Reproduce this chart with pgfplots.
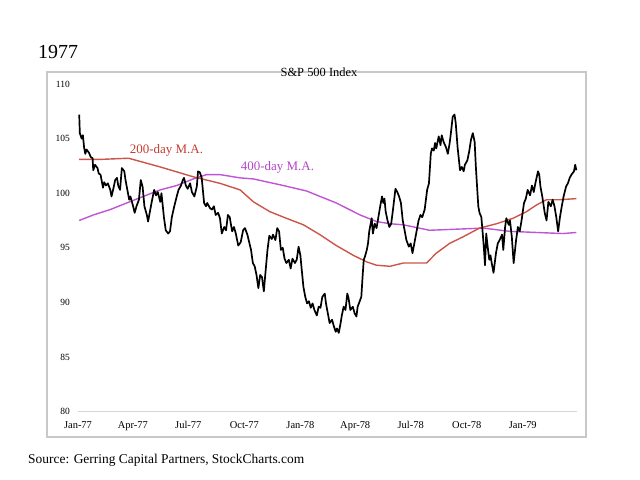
\documentclass[border=0pt]{standalone}
\usepackage{pgfplots}
\pgfplotsset{compat=1.18}
\usepackage{fontspec}
\setmainfont{Liberation Serif}
\definecolor{maRed}{RGB}{204,84,72}
\definecolor{maPurple}{RGB}{192,84,212}
\definecolor{lblRed}{RGB}{196,60,52}
\definecolor{lblPurple}{RGB}{180,68,200}
\definecolor{frameGray}{RGB}{200,200,200}
\definecolor{axGray}{RGB}{214,214,214}
\begin{document}
\begin{tikzpicture}[x=1bp,y=1bp]
\path[use as bounding box] (0,0) rectangle (640,480);
\draw[frameGray, line width=1.3bp] (47,43) rectangle (586,408);
\begin{axis}[
  at={(78bp,68.5bp)}, anchor=south west,
  scale only axis, width=499bp, height=327.5bp,
  xmin=0, xmax=819, ymin=80, ymax=110,
  axis line style={draw=none},
  major tick length=0pt,
  xtick={0,90,181,273,365,455,546,638,730},
  xticklabels={Jan-77,Apr-77,Jul-77,Oct-77,Jan-78,Apr-78,Jul-78,Oct-78,Jan-79},
  ytick={80,85,90,95,100,105,110},
  /pgf/number format/assume math mode=true,
  xticklabel style={font=\fontsize{10.5}{12}\selectfont, inner sep=0pt, yshift=-10bp},
  yticklabel style={font=\fontsize{9.5}{11}\selectfont, inner sep=0pt, xshift=-8bp},
  clip=false,
]
\draw[axGray, line width=1.2bp] (axis cs:0,80) -- (axis cs:819,80);
\addplot[maPurple, line width=1.4bp] coordinates {
(2,97.5)(25,98.0)(53,98.5)(80,99.1)(107,99.7)(135,100.3)(162,100.7)(189,101.3)(211,101.7)(233,101.7)(266,101.4)(288,101.3)(337,100.7)(375,100.2)(424,99.1)(463,98.0)(490,97.4)(512,97.2)(534,97.1)(577,96.6)(621,96.7)(665,96.8)(709,96.5)(752,96.4)(796,96.3)(818,96.4)
};
\addplot[maRed, line width=1.4bp] coordinates {
(2,103.1)(40,103.1)(83,103.2)(135,102.4)(189,101.5)(233,100.9)(266,100.3)(288,99.2)(315,98.3)(342,97.7)(370,97.1)(397,96.2)(424,95.2)(452,94.3)(474,93.7)(490,93.4)(512,93.3)(534,93.6)(572,93.6)(588,94.5)(610,95.4)(632,96.0)(659,96.8)(687,97.2)(714,97.7)(736,98.3)(752,98.9)(769,99.4)(791,99.4)(818,99.5)
};
\addplot[black, line width=1.7bp, line join=round] coordinates {
(2,107.2)(3,105.5)(6,105.0)(8,105.3)(10,104.2)(12,103.6)(14,104.0)(18,103.7)(21,103.3)(24,103.2)(25,102.1)(28,102.6)(32,102.3)(34,101.8)(37,101.7)(41,100.5)(43,101.0)(46,100.7)(49,100.9)(53,100.3)(55,99.7)(58,100.4)(61,101.2)(64,101.4)(66,100.7)(69,100.3)(72,102.3)(76,102.0)(78,101.2)(81,100.3)(84,99.4)(86,99.7)(90,98.9)(93,98.2)(96,98.8)(100,99.4)(103,101.2)(106,100.6)(109,98.8)(113,98.0)(115,97.4)(118,98.3)(121,99.2)(125,100.3)(128,99.8)(131,100.1)(135,99.2)(137,100.0)(141,97.8)(144,96.6)(148,96.3)(151,96.5)(154,97.8)(158,98.8)(162,99.7)(165,100.3)(169,100.7)(172,101.2)(174,101.4)(177,100.7)(180,100.4)(184,100.9)(187,100.1)(191,99.7)(195,100.6)(197,102.0)(200,101.9)(203,101.4)(207,99.1)(210,98.8)(212,99.1)(217,98.6)(220,98.5)(223,98.8)(226,98.0)(230,98.2)(233,97.7)(236,96.3)(240,96.9)(243,96.6)(246,98.0)(249,97.8)(253,96.5)(256,96.9)(259,96.3)(263,95.2)(267,95.5)(271,96.6)(274,96.8)(278,96.2)(281,95.5)(284,94.8)(287,93.6)(290,93.3)(293,92.5)(296,91.3)(299,92.5)(302,92.3)(305,91.0)(307,92.3)(311,94.8)(314,96.1)(318,95.8)(320,96.2)(324,95.7)(327,96.8)(330,96.5)(333,94.8)(336,95.0)(339,94.0)(342,93.6)(346,93.9)(349,93.1)(352,94.0)(356,93.6)(359,93.9)(362,95.1)(365,94.3)(367,93.1)(370,91.4)(373,90.5)(376,89.9)(379,90.1)(382,89.5)(385,89.9)(388,89.3)(392,88.8)(395,89.6)(398,89.5)(401,90.5)(405,90.8)(407,89.9)(410,89.0)(413,88.1)(417,88.4)(420,87.8)(423,87.3)(425,87.6)(428,87.2)(431,88.1)(433,88.8)(436,89.6)(439,89.3)(442,90.8)(444,90.4)(447,89.3)(451,89.6)(454,89.0)(457,88.7)(459,89.6)(463,90.2)(465,90.5)(467,92.3)(469,93.9)(471,94.2)(474,94.8)(476,95.4)(478,96.5)(480,97.1)(482,97.7)(484,96.3)(487,97.2)(490,96.8)(493,97.8)(496,98.8)(499,99.7)(501,99.1)(503,99.5)(505,98.3)(508,97.5)(511,96.9)(514,97.2)(517,98.5)(521,100.4)(524,100.1)(527,99.7)(530,99.1)(533,97.5)(536,96.6)(539,95.7)(543,95.1)(546,95.4)(549,94.5)(552,95.4)(556,96.6)(559,97.5)(562,98.0)(565,97.8)(569,98.5)(571,99.4)(573,100.3)(576,100.9)(579,103.6)(581,104.1)(584,103.9)(586,104.6)(588,104.1)(592,105.2)(595,104.4)(597,105.3)(600,104.7)(604,104.2)(607,103.6)(610,104.6)(612,105.5)(615,107.0)(618,107.2)(620,106.4)(623,104.2)(627,102.1)(630,102.4)(633,102.0)(635,102.6)(639,103.0)(642,103.8)(645,104.9)(648,105.5)(651,104.7)(653,102.4)(655,100.6)(657,98.8)(659,98.2)(662,97.8)(664,96.5)(666,95.1)(668,93.4)(670,96.3)(673,94.8)(675,93.9)(677,94.3)(679,93.6)(682,92.7)(686,94.5)(689,95.4)(692,95.7)(696,96.2)(698,94.8)(701,96.9)(703,97.7)(707,97.1)(709,97.5)(712,96.0)(715,93.6)(719,95.7)(722,96.9)(725,96.5)(728,97.5)(732,99.1)(735,99.5)(738,100.3)(742,99.8)(745,100.7)(748,100.1)(751,101.0)(755,102.0)(757,101.7)(759,100.6)(762,99.7)(766,98.2)(769,97.5)(772,99.2)(776,98.8)(779,99.4)(782,98.8)(785,97.8)(788,96.5)(791,97.8)(794,98.8)(797,99.7)(801,100.6)(804,100.9)(807,101.4)(810,101.7)(814,102.0)(816,102.6)(818,102.1)
};
\end{axis}
\node[anchor=base west, inner sep=0pt, font=\fontsize{20}{24}\selectfont] at (38,421.7) {1977};
\node[inner sep=0pt, font=\fontsize{12.5}{14}\selectfont] at (319,408) {S\&P 500 Index};
\node[inner sep=0pt, text=lblRed, font=\fontsize{13}{15}\selectfont] at (166.5,330) {200-day M.A.};
\node[inner sep=0pt, text=lblPurple, font=\fontsize{13}{15}\selectfont] at (277.5,313) {400-day M.A.};
\node[anchor=west, inner sep=0pt, font=\fontsize{13.5}{16}\selectfont] at (28,20) {Source: Gerring Capital Partners, StockCharts.com};
\end{tikzpicture}
\end{document}
